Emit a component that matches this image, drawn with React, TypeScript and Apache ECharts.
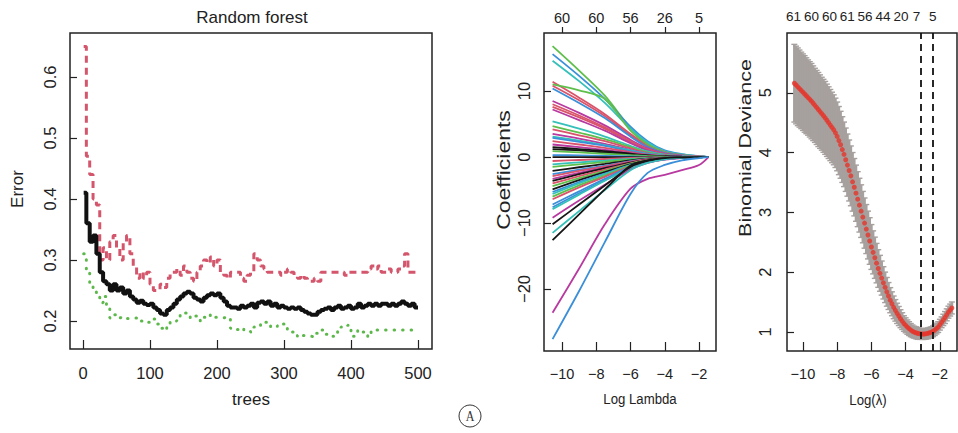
import React, { useEffect, useRef } from 'react';
import * as echarts from 'echarts';

const W = 958;
const H = 433;
const FONT = "'Liberation Sans', Arial, sans-serif";
const INK = '#222';

// ---------- Panel 1: Random forest ----------
const TREES = [1, 5, 10, 15, 20, 25, 30, 35, 40, 45, 50, 55, 60, 65, 70, 75, 80, 85, 90, 95, 100,
  105, 110, 115, 120, 125, 130, 135, 140, 145, 150, 155, 160, 165, 170, 175, 180, 185, 190, 195, 200,
  205, 210, 215, 220, 225, 230, 235, 240, 245, 250, 255, 260, 265, 270, 275, 280, 285, 290, 295, 300,
  305, 310, 315, 320, 325, 330, 335, 340, 345, 350, 355, 360, 365, 370, 375, 380, 385, 390, 395, 400,
  405, 410, 415, 420, 425, 430, 435, 440, 445, 450, 455, 460, 465, 470, 475, 480, 485, 490, 495, 500];

const OOB_ERROR = [0.41,
  0.36, 0.33, 0.34, 0.31, 0.28, 0.265, 0.26, 0.25, 0.26, 0.25,
  0.255, 0.245, 0.25, 0.24, 0.235, 0.23, 0.233, 0.228, 0.226, 0.228,
  0.222, 0.218, 0.212, 0.21, 0.218, 0.222, 0.228, 0.235, 0.24, 0.245,
  0.248, 0.245, 0.238, 0.235, 0.232, 0.238, 0.242, 0.245, 0.242, 0.245,
  0.238, 0.232, 0.225, 0.222, 0.222, 0.22, 0.225, 0.222, 0.225, 0.228,
  0.222, 0.23, 0.232, 0.228, 0.232, 0.225, 0.228, 0.222, 0.225, 0.222,
  0.22, 0.222, 0.22, 0.222, 0.218, 0.215, 0.212, 0.21, 0.21, 0.215,
  0.218, 0.22, 0.222, 0.218, 0.222, 0.225, 0.22, 0.222, 0.225, 0.22,
  0.222, 0.228, 0.222, 0.225, 0.228, 0.225, 0.228, 0.225, 0.228, 0.228,
  0.225, 0.228, 0.225, 0.228, 0.232, 0.228, 0.225, 0.228, 0.222, 0.222];

const CLASS1_ERROR = [0.65,
  0.47, 0.44, 0.40, 0.39, 0.30, 0.32, 0.30, 0.33, 0.34, 0.32,
  0.30, 0.33, 0.34, 0.31, 0.29, 0.27, 0.28, 0.27, 0.28, 0.26,
  0.25, 0.25, 0.26, 0.255, 0.27, 0.28, 0.28, 0.285, 0.275, 0.29,
  0.28, 0.27, 0.265, 0.28, 0.29, 0.30, 0.295, 0.305, 0.29, 0.30,
  0.28, 0.275, 0.27, 0.28, 0.28, 0.28, 0.27, 0.265, 0.275, 0.28,
  0.31, 0.30, 0.29, 0.285, 0.28, 0.28, 0.28, 0.28, 0.275, 0.28,
  0.285, 0.28, 0.275, 0.27, 0.275, 0.27, 0.265, 0.265, 0.27, 0.265,
  0.28, 0.28, 0.28, 0.28, 0.28, 0.28, 0.28, 0.275, 0.28, 0.28,
  0.28, 0.28, 0.28, 0.28, 0.285, 0.29, 0.285, 0.29, 0.28, 0.28,
  0.285, 0.28, 0.28, 0.285, 0.29, 0.31, 0.28, 0.28, 0.28, 0.28];

const CLASS2_ERROR = [0.31,
  0.28, 0.26, 0.25, 0.24, 0.23, 0.24, 0.22, 0.205, 0.21, 0.205,
  0.206, 0.206, 0.204, 0.205, 0.205, 0.2, 0.2, 0.2, 0.198, 0.2,
  0.203, 0.195, 0.188, 0.185, 0.195, 0.198, 0.2, 0.205, 0.21, 0.213,
  0.21, 0.205, 0.208, 0.208, 0.2, 0.206, 0.205, 0.21, 0.206, 0.205,
  0.205, 0.206, 0.206, 0.188, 0.186, 0.186, 0.188, 0.185, 0.184, 0.182,
  0.19, 0.19, 0.195, 0.198, 0.195, 0.19, 0.19, 0.192, 0.195, 0.195,
  0.186, 0.182, 0.176, 0.174, 0.176, 0.175, 0.175, 0.174, 0.18, 0.182,
  0.185, 0.178, 0.175, 0.175, 0.18, 0.185, 0.19, 0.19, 0.193, 0.175,
  0.176, 0.185, 0.182, 0.176, 0.174, 0.185, 0.185, 0.185, 0.185, 0.185,
  0.185, 0.185, 0.185, 0.185, 0.185, 0.185, 0.185, 0.185, 0.185, 0.185];

const RF_X_TICKS = [0, 100, 200, 300, 400, 500];
const RF_Y_TICKS = [0.2, 0.3, 0.4, 0.5, 0.6];

// ---------- Panel 2: LASSO coefficient paths ----------
const COEF_X = [-10.55, -9, -7.5, -6, -5, -4, -3, -2, -1.45];
const COEF_COLORS = [
  'g', 'b', 'c', 'r', 'g', 'r', 'b', 'm', 'r', 'r', 'm', 'c', 'g', 'r', 'm', 'c', 'b', 'r', 'm', 'k', 'k', 'g', 'b', 'k',
  'r', 'c', 'g', 'k', 'b', 'r', 'm', 'k', 'r', 'g', 'k', 'b', 'c', 'g', 'r', 'b', 'b', 'c', 'm', 'k', 'c', 'k', 'm', 'b'];
const COEF_PATHS = [
  [16.8, 13.1, 9.3, 4.4, 2.0, 0.5, 0.2, 0.06, 0],
  [15.6, 12.3, 8.8, 4.6, 2.4, 1.0, 0.45, 0.15, 0],
  [14.6, 11.5, 8.2, 4.3, 2.2, 0.9, 0.4, 0.12, 0],
  [11.4, 9.0, 6.5, 3.5, 1.8, 0.75, 0.3, 0.1, 0],
  [11.0, 10.1, 8.8, 4.0, 1.9, 0.7, 0.3, 0.1, 0],
  [10.8, 8.6, 6.2, 3.3, 1.6, 0.6, 0.25, 0.08, 0],
  [10.4, 8.2, 5.9, 3.1, 1.5, 0.6, 0.25, 0.08, 0],
  [8.5, 6.7, 4.8, 2.6, 1.3, 0.5, 0.2, 0.06, 0],
  [8.0, 6.3, 4.5, 2.4, 1.2, 0.45, 0.18, 0.05, 0],
  [7.6, 6.0, 4.3, 2.3, 1.1, 0.4, 0.15, 0.05, 0],
  [7.2, 5.6, 4.0, 2.1, 1.0, 0.38, 0.15, 0.04, 0],
  [5.4, 4.3, 3.1, 1.7, 0.85, 0.35, 0.14, 0.04, 0],
  [4.7, 3.7, 2.7, 1.5, 0.7, 0.28, 0.1, 0.03, 0],
  [4.2, 3.3, 2.4, 1.3, 0.6, 0.25, 0.1, 0.03, 0],
  [3.5, 2.8, 2.0, 1.1, 0.5, 0.2, 0.08, 0.02, 0],
  [3.1, 2.5, 1.8, 1.0, 0.5, 0.2, 0.08, 0.02, 0],
  [2.9, 2.3, 1.7, 0.9, 0.45, 0.18, 0.07, 0.02, 0],
  [2.4, 1.9, 1.4, 0.75, 0.35, 0.14, 0.05, 0.01, 0],
  [1.9, 1.5, 1.1, 0.6, 0.3, 0.12, 0.05, 0.01, 0],
  [1.5, 1.2, 0.9, 0.5, 0.25, 0.1, 0.04, 0.01, 0],
  [1.2, 1.0, 0.7, 0.4, 0.2, 0.08, 0.03, 0.01, 0],
  [0.9, 0.7, 0.5, 0.3, 0.15, 0.06, 0.02, 0, 0],
  [0.3, 0.25, 0.18, 0.1, 0.05, 0.02, 0.01, 0, 0],
  [0, 0, 0, 0, 0, 0, 0, 0, 0],
  [-0.6, -0.45, -0.3, -0.15, -0.07, -0.03, -0.01, 0, 0],
  [-1.1, -0.8, -0.55, -0.28, -0.13, -0.05, -0.02, 0, 0],
  [-1.5, -1.1, -0.75, -0.38, -0.18, -0.07, -0.03, -0.01, 0],
  [-2.1, -1.55, -1.05, -0.5, -0.24, -0.1, -0.04, -0.01, 0],
  [-2.6, -1.9, -1.3, -0.62, -0.3, -0.12, -0.05, -0.01, 0],
  [-2.9, -2.1, -1.4, -0.7, -0.33, -0.14, -0.05, -0.02, 0],
  [-3.3, -2.4, -1.6, -0.8, -0.38, -0.16, -0.06, -0.02, 0],
  [-3.6, -2.6, -1.7, -0.85, -0.4, -0.17, -0.07, -0.02, 0],
  [-4.0, -2.9, -1.9, -0.95, -0.45, -0.19, -0.08, -0.02, 0],
  [-4.4, -3.2, -2.1, -1.0, -0.5, -0.2, -0.08, -0.02, 0],
  [-4.9, -3.5, -2.3, -1.1, -0.55, -0.22, -0.09, -0.03, 0],
  [-5.3, -3.8, -2.5, -1.2, -0.6, -0.25, -0.1, -0.03, 0],
  [-5.6, -4.0, -2.6, -1.25, -0.6, -0.25, -0.1, -0.03, 0],
  [-6.0, -4.3, -2.8, -1.3, -0.65, -0.27, -0.1, -0.03, 0],
  [-6.4, -4.6, -3.0, -1.4, -0.7, -0.3, -0.12, -0.04, 0],
  [-7.2, -5.2, -3.3, -1.5, -0.75, -0.32, -0.13, -0.04, 0],
  [-7.6, -5.5, -3.5, -1.6, -0.8, -0.35, -0.14, -0.04, 0],
  [-7.9, -5.7, -3.6, -1.65, -0.8, -0.35, -0.14, -0.04, 0],
  [-9.2, -6.6, -4.2, -1.9, -0.9, -0.4, -0.16, -0.05, 0],
  [-10.2, -7.2, -4.3, -1.5, -0.6, -0.22, -0.08, -0.02, 0],
  [-11.5, -8.2, -5.0, -2.0, -0.9, -0.35, -0.13, -0.04, 0],
  [-12.6, -8.7, -4.9, -1.3, -0.5, -0.15, -0.05, -0.01, 0],
  [-23.6, -16.9, -10.2, -4.8, -3.3, -2.7, -2.0, -1.2, 0],
  [-27.6, -20.3, -12.9, -5.6, -2.4, -1.2, -0.5, -0.15, 0]];
const COEF_X_TICKS = [-10, -8, -6, -4, -2];
const COEF_Y_TICKS = [-20, -10, 0, 10];
const COEF_TOP_DF = ['60', '60', '56', '26', '5'];

// ---------- Panel 3: cross-validation ----------
const CV_LOG_LAMBDA = [
  -10.5, -10.4, -10.3, -10.2, -10.1, -10.0, -9.9, -9.8, -9.7, -9.6,
  -9.5, -9.4, -9.3, -9.2, -9.1, -9.0, -8.9, -8.8, -8.7, -8.6,
  -8.5, -8.4, -8.3, -8.2, -8.1, -8.0, -7.9, -7.8, -7.7, -7.6,
  -7.5, -7.4, -7.3, -7.2, -7.1, -7.0, -6.9, -6.8, -6.7, -6.6,
  -6.5, -6.4, -6.3, -6.2, -6.1, -6.0, -5.9, -5.8, -5.7, -5.6,
  -5.5, -5.4, -5.3, -5.2, -5.1, -5.0, -4.9, -4.8, -4.7, -4.6,
  -4.5, -4.4, -4.3, -4.2, -4.1, -4.0, -3.9, -3.8, -3.7, -3.6,
  -3.5, -3.4, -3.3, -3.2, -3.1, -3.0, -2.9, -2.8, -2.7, -2.6,
  -2.5, -2.4, -2.3, -2.2, -2.1, -2.0, -1.9, -1.8, -1.7, -1.6,
  -1.5, -1.4, -1.3];
const CV_DEVIANCE = [
  5.16, 5.13, 5.10, 5.07, 5.04, 5.01, 4.98, 4.95, 4.92, 4.89,
  4.86, 4.825, 4.79, 4.755, 4.72, 4.685, 4.65, 4.615, 4.58, 4.54,
  4.50, 4.46, 4.42, 4.38, 4.33, 4.27, 4.20, 4.13, 4.05, 3.97,
  3.88, 3.79, 3.70, 3.61, 3.51, 3.42, 3.32, 3.22, 3.12, 3.02,
  2.92, 2.82, 2.72, 2.62, 2.52, 2.42, 2.33, 2.24, 2.15, 2.06,
  1.98, 1.90, 1.82, 1.745, 1.67, 1.60, 1.53, 1.47, 1.41, 1.36,
  1.31, 1.265, 1.22, 1.18, 1.14, 1.11, 1.08, 1.055, 1.03, 1.01,
  0.995, 0.985, 0.975, 0.97, 0.965, 0.963, 0.965, 0.97, 0.975, 0.985,
  0.995, 1.01, 1.03, 1.055, 1.08, 1.12, 1.16, 1.20, 1.24, 1.285,
  1.33, 1.365, 1.40];
const CV_SE = [
  0.65, 0.65, 0.65, 0.645, 0.64, 0.64, 0.64, 0.635, 0.63, 0.63,
  0.63, 0.625, 0.62, 0.62, 0.62, 0.615, 0.61, 0.61, 0.61, 0.605,
  0.60, 0.595, 0.59, 0.585, 0.58, 0.575, 0.57, 0.56, 0.55, 0.54,
  0.53, 0.52, 0.51, 0.50, 0.49, 0.48, 0.47, 0.46, 0.45, 0.44,
  0.43, 0.42, 0.41, 0.40, 0.39, 0.375, 0.36, 0.345, 0.33, 0.315,
  0.30, 0.285, 0.27, 0.255, 0.24, 0.225, 0.21, 0.20, 0.19, 0.18,
  0.17, 0.16, 0.15, 0.14, 0.13, 0.125, 0.12, 0.115, 0.11, 0.105,
  0.10, 0.10, 0.10, 0.095, 0.09, 0.09, 0.09, 0.09, 0.09, 0.09,
  0.09, 0.09, 0.09, 0.09, 0.09, 0.09, 0.09, 0.095, 0.10, 0.10,
  0.10, 0.10, 0.10];
const CV_LAMBDA_MIN = -3.1;
const CV_LAMBDA_1SE = -2.4;
const CV_X_TICKS = [-10, -8, -6, -4, -2];
const CV_Y_TICKS = [1, 2, 3, 4, 5];
const CV_TOP_POS = [-10.55, -9.5, -8.45, -7.41, -6.37, -5.32, -4.27, -3.37, -2.41];
const CV_TOP_DF = ['61', '60', '60', '61', '56', '44', '20', '7', '5'];

const PALETTE: Record<string, string> = {
  k: '#161616', r: '#d9536b', g: '#5fbf4c', b: '#3b8fd9', c: '#35c0ba', m: '#b8399f',
};

const minus = (v: number) => (v < 0 ? '\u2212' + Math.abs(v) : String(v));
const lookup = (pos: number[], labels: string[]) => (v: number) => {
  const i = pos.findIndex((p) => Math.abs(p - v) < 1e-6);
  return i >= 0 ? labels[i] : '';
};

const tickStyle = { color: INK, width: 1.2 };
const centered = { align: 'center', verticalAlign: 'middle', textAlign: 'center', textVerticalAlign: 'middle' };
const noLine = { show: false, onZero: false };

function buildOption() {
  const coefSeries = COEF_PATHS.map((vals, i) => ({
    type: 'line',
    xAxisIndex: 1,
    yAxisIndex: 1,
    data: COEF_X.map((x, j) => [x, vals[j]]),
    smooth: 0.3,
    showSymbol: false,
    silent: true,
    lineStyle: { color: PALETTE[COEF_COLORS[i]], width: 1.8 },
    z: 2,
  }));

  const GREY = '#a6a09e';
  const cvBand = {
    type: 'custom',
    xAxisIndex: 3,
    yAxisIndex: 2,
    clip: true,
    silent: true,
    data: CV_LOG_LAMBDA.map((x, i) => [x, CV_DEVIANCE[i] - CV_SE[i], CV_DEVIANCE[i] + CV_SE[i]]),
    encode: { x: 0, y: [1, 2] },
    renderItem: (params: any, api: any) => {
      const x = api.value(0);
      const lo = api.coord([x, api.value(1)]);
      const hi = api.coord([x, api.value(2)]);
      return {
        type: 'group',
        children: [
          { type: 'rect', shape: { x: lo[0] - 1.3, y: hi[1], width: 2.6, height: lo[1] - hi[1] }, style: { fill: GREY } },
          { type: 'line', shape: { x1: lo[0] - 3, y1: lo[1], x2: lo[0] + 3, y2: lo[1] }, style: { stroke: GREY, lineWidth: 1.4 } },
          { type: 'line', shape: { x1: hi[0] - 3, y1: hi[1], x2: hi[0] + 3, y2: hi[1] }, style: { stroke: GREY, lineWidth: 1.4 } },
        ],
      };
    },
    z: 2,
  };

  const cvPoints = {
    type: 'scatter',
    xAxisIndex: 3,
    yAxisIndex: 2,
    data: CV_LOG_LAMBDA.map((x, i) => [x, CV_DEVIANCE[i]]),
    symbolSize: 5,
    itemStyle: { color: '#e5362c' },
    silent: true,
    z: 4,
    markLine: {
      silent: true,
      symbol: ['none', 'none'],
      label: { show: false },
      lineStyle: { color: '#111', type: [7, 5], width: 1.8 },
      data: [{ xAxis: CV_LAMBDA_MIN }, { xAxis: CV_LAMBDA_1SE }],
    },
  };

  const gridBase = { show: true, borderColor: INK, borderWidth: 1.5, backgroundColor: 'transparent', containLabel: false };

  const bottomAxis = (grid: number, min: number, max: number, ticks: number[], size: number, fmt: any) => ({
    type: 'value', gridIndex: grid, min, max, position: 'bottom',
    axisLine: noLine, splitLine: { show: false },
    axisTick: { show: true, inside: true, length: 9, customValues: ticks, lineStyle: tickStyle },
    axisLabel: { customValues: ticks, margin: 15, fontSize: size, color: INK, fontFamily: FONT, formatter: fmt },
  });
  const leftAxis = (grid: number, min: number, max: number, ticks: number[], fmt: any, margin: number) => ({
    type: 'value', gridIndex: grid, min, max, position: 'left',
    axisLine: noLine, splitLine: { show: false },
    axisTick: { show: true, inside: true, length: 7, customValues: ticks, lineStyle: tickStyle },
    axisLabel: { customValues: ticks, rotate: 90, margin, fontSize: 16.5, color: INK, fontFamily: FONT, formatter: fmt },
  });

  return {
    animation: false,
    backgroundColor: '#fff',
    grid: [
      { ...gridBase, left: 70, top: 33, width: 362, height: 316 },
      { ...gridBase, left: 544, top: 33, width: 172, height: 318 },
      { ...gridBase, left: 787, top: 33, width: 170, height: 318 },
    ],
    xAxis: [
      bottomAxis(0, -19.4, 520.9, RF_X_TICKS, 16.5, (v: number) => String(v)),
      bottomAxis(1, -11.05, -1.01, COEF_X_TICKS, 14.5, minus),
      {
        type: 'value', gridIndex: 1, min: -11.05, max: -1.01, position: 'top',
        axisLine: noLine, splitLine: { show: false },
        axisTick: { show: true, inside: false, length: 6, customValues: COEF_X_TICKS, lineStyle: tickStyle },
        axisLabel: { customValues: COEF_X_TICKS, margin: 8, fontSize: 14.5, color: INK, fontFamily: FONT, formatter: lookup(COEF_X_TICKS, COEF_TOP_DF) },
      },
      bottomAxis(2, -10.93, -1.0, CV_X_TICKS, 14.5, minus),
      {
        type: 'value', gridIndex: 2, min: -10.93, max: -1.0, position: 'top',
        axisLine: noLine, splitLine: { show: false },
        axisTick: { show: false },
        axisLabel: { customValues: CV_TOP_POS, margin: 10, fontSize: 13.5, color: INK, fontFamily: FONT, hideOverlap: false, formatter: lookup(CV_TOP_POS, CV_TOP_DF) },
      },
    ],
    yAxis: [
      leftAxis(0, 0.154, 0.672, RF_Y_TICKS, (v: number) => v.toFixed(1), 12),
      leftAxis(1, -29.4, 18.8, COEF_Y_TICKS, minus, 12),
      leftAxis(2, 0.68, 6.0, CV_Y_TICKS, (v: number) => String(v), 14),
    ],
    series: [
      {
        type: 'line', xAxisIndex: 0, yAxisIndex: 0, step: 'end', showSymbol: false, silent: true,
        data: TREES.map((t, i) => [t, CLASS2_ERROR[i]]),
        lineStyle: { color: '#5cb84a', width: 3, type: [0.5, 8], cap: 'round' }, z: 2,
      },
      {
        type: 'line', xAxisIndex: 0, yAxisIndex: 0, step: 'end', showSymbol: false, silent: true,
        data: TREES.map((t, i) => [t, CLASS1_ERROR[i]]),
        lineStyle: { color: '#d3566c', width: 3, type: [7, 5] }, z: 3,
      },
      {
        type: 'line', xAxisIndex: 0, yAxisIndex: 0, step: 'end', showSymbol: false, silent: true,
        data: TREES.map((t, i) => [t, OOB_ERROR[i]]),
        lineStyle: { color: '#111', width: 4 }, z: 4,
      },
      ...coefSeries,
      cvBand,
      cvPoints,
    ],
    graphic: [
      { type: 'text', x: 252, y: 17, style: { text: 'Random forest', fontSize: 17, fontFamily: FONT, fill: INK, ...centered } },
      { type: 'text', x: 251, y: 399, style: { text: 'trees', fontSize: 17, fontFamily: FONT, fill: INK, ...centered } },
      { type: 'text', x: 17.5, y: 189, rotation: Math.PI / 2, style: { text: 'Error', fontSize: 17, fontFamily: FONT, fill: INK, ...centered } },
      { type: 'text', x: 640, y: 399, scaleX: 0.88, style: { text: 'Log Lambda', fontSize: 15, fontFamily: FONT, fill: INK, ...centered } },
      { type: 'text', x: 503, y: 170, rotation: Math.PI / 2, scaleY: 0.8, style: { text: 'Coefficients', fontSize: 23, fontFamily: FONT, fill: INK, ...centered } },
      { type: 'text', x: 745, y: 148, rotation: Math.PI / 2, scaleY: 0.8, style: { text: 'Binomial Deviance', fontSize: 21.5, fontFamily: FONT, fill: INK, ...centered } },
      { type: 'text', x: 868, y: 400, scaleX: 0.88, style: { text: 'Log(λ)', fontSize: 15, fontFamily: FONT, fill: INK, ...centered } },
      { type: 'circle', shape: { cx: 470, cy: 416, r: 11 }, style: { fill: 'none', stroke: '#333', lineWidth: 1 } },
      { type: 'text', x: 470, y: 416.5, scaleX: 0.8, style: { text: 'A', fontSize: 15, fontFamily: "'Liberation Serif', 'DejaVu Serif', serif", fill: '#333', ...centered } },
    ],
  };
}

export default function App() {
  const ref = useRef<HTMLDivElement>(null);
  useEffect(() => {
    if (!ref.current) return;
    const chart = echarts.init(ref.current, null, { renderer: 'svg', width: W, height: H });
    chart.setOption(buildOption() as any);
    return () => chart.dispose();
  }, []);
  return (
    <div
      ref={ref}
      style={{ position: 'fixed', left: 0, top: 0, width: W, height: H, background: '#fff' }}
    />
  );
}
